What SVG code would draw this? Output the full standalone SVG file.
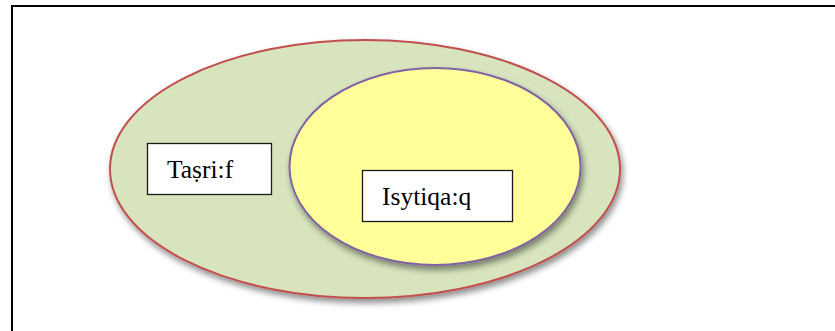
<svg xmlns="http://www.w3.org/2000/svg" width="835" height="331" viewBox="0 0 835 331">
<defs>
<filter id="sh" x="-10%" y="-10%" width="130%" height="130%">
<feGaussianBlur in="SourceAlpha" stdDeviation="3"/>
<feOffset dx="2" dy="4"/>
<feComponentTransfer><feFuncA type="linear" slope="0.45"/></feComponentTransfer>
<feMerge><feMergeNode/><feMergeNode in="SourceGraphic"/></feMerge>
</filter>
</defs>
<style>
.lbl{fill:#fff;stroke:#1a1a1a;stroke-width:1.3}
.t{font-family:"Liberation Serif",serif;font-size:25.5px;fill:#000}
</style>
<rect width="835" height="331" fill="#fff"/>
<path d="M12 331 V6 H835" fill="none" stroke="#000" stroke-width="2"/>
<g id="outer">
<ellipse cx="365" cy="169" rx="255" ry="129" fill="#d7e4bd" stroke="#c0504d" stroke-width="2" filter="url(#sh)"/>
</g>
<g id="inner">
<ellipse cx="435" cy="166.5" rx="145.5" ry="98.5" fill="#ffff99" stroke="#8064a2" stroke-width="2" filter="url(#sh)"/>
</g>
<g id="tasrif">
<rect class="lbl" x="147.5" y="143.5" width="124" height="51"/>
<text class="t" x="167" y="178">Taṣri:f</text>
</g>
<g id="isytiqaq">
<rect class="lbl" x="362.5" y="170.5" width="150" height="51"/>
<text class="t" x="382" y="205">Isytiqa:q</text>
</g>
<g id="connectors"></g>
</svg>
